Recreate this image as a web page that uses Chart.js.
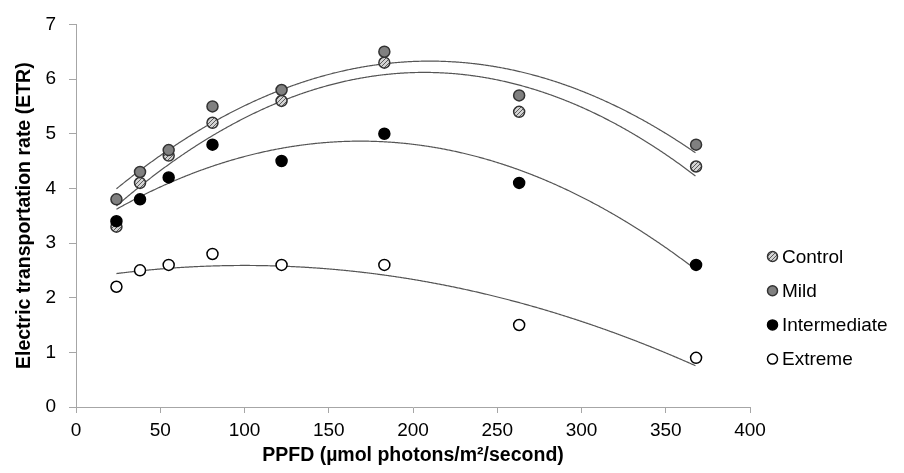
<!DOCTYPE html>
<html><head><meta charset="utf-8">
<script src="https://cdn.jsdelivr.net/npm/chart.js@4.4.1/dist/chart.umd.min.js"></script>
<style>html,body{margin:0;padding:0;background:#fff}#wrap{width:904px;height:473px;position:relative}</style>
</head><body><div id="wrap"><canvas id="c" width="904" height="473"></canvas></div>
<script>
// ---- data ----
const ppfd = [24, 38, 55, 81, 122, 183, 263, 368];
const control = [3.3, 4.1, 4.6, 5.2, 5.6, 6.3, 5.4, 4.4];
const mild = [3.8, 4.3, 4.7, 5.5, 5.8, 6.5, 5.7, 4.8];
const intermediate = [3.4, 3.8, 4.2, 4.8, 4.5, 5.0, 4.1, 2.6];
const extreme = [2.2, 2.5, 2.6, 2.8, 2.6, 2.6, 1.5, 0.9];
const seriesNames = ['Control', 'Mild', 'Intermediate', 'Extreme'];
const xTickValues = [0, 50, 100, 150, 200, 250, 300, 350, 400];
const yTickValues = [0, 1, 2, 3, 4, 5, 6, 7];
const xTitle = 'PPFD (µmol photons/m²/second)';
const yTitle = 'Electric transportation rate (ETR)';

const FONT = "'Liberation Sans', Arial, sans-serif";
Chart.defaults.font.family = FONT;
Chart.defaults.color = '#000';

// hatched fill for Control
function makeHatch() {
  const c = document.createElement('canvas');
  c.width = 4; c.height = 4;
  const g = c.getContext('2d');
  g.fillStyle = '#d4d4d4'; g.fillRect(0, 0, 4, 4);
  g.strokeStyle = '#5a5a5a'; g.lineWidth = 1;
  g.beginPath();
  g.moveTo(-1, 5); g.lineTo(5, -1);
  g.moveTo(-1, 1); g.lineTo(1, -1);
  g.moveTo(3, 5); g.lineTo(5, 3);
  g.stroke();
  return g.createPattern(c, 'repeat');
}
const ctx0 = document.getElementById('c').getContext('2d');
const hatch = makeHatch();

const styles = [
  { bg: hatch, border: '#333333', order: 4 },
  { bg: '#808080', border: '#333333', order: 3 },
  { bg: '#000000', border: '#000000', order: 2 },
  { bg: '#ffffff', border: '#000000', order: 1 }
];
const values = [control, mild, intermediate, extreme];

const datasets = values.map((vals, i) => ({
  label: seriesNames[i],
  data: ppfd.map((x, k) => ({ x: x, y: vals[k] })),
  showLine: false,
  pointRadius: 5.5,
  pointHoverRadius: 5.5,
  pointBorderWidth: 1.5,
  pointBackgroundColor: styles[i].bg,
  pointBorderColor: styles[i].border,
  backgroundColor: styles[i].bg,
  borderColor: styles[i].border,
  order: styles[i].order
}));

// least-squares quadratic (Excel-style polynomial trendline, order 2)
function quadFit(xs, ys) {
  let n = xs.length, s1 = 0, s2 = 0, s3 = 0, s4 = 0, t0 = 0, t1 = 0, t2 = 0;
  for (let i = 0; i < n; i++) {
    const x = xs[i], y = ys[i];
    s1 += x; s2 += x * x; s3 += x * x * x; s4 += x * x * x * x;
    t0 += y; t1 += x * y; t2 += x * x * y;
  }
  const M = [[n, s1, s2, t0], [s1, s2, s3, t1], [s2, s3, s4, t2]];
  for (let c = 0; c < 3; c++) {
    let p = c;
    for (let r = c + 1; r < 3; r++) if (Math.abs(M[r][c]) > Math.abs(M[p][c])) p = r;
    [M[c], M[p]] = [M[p], M[c]];
    for (let r = 0; r < 3; r++) {
      if (r === c) continue;
      const f = M[r][c] / M[c][c];
      for (let k = c; k < 4; k++) M[r][k] -= f * M[c][k];
    }
  }
  return [M[0][3] / M[0][0], M[1][3] / M[1][1], M[2][3] / M[2][2]];
}

const trendPlugin = {
  id: 'trend',
  beforeDatasetsDraw(chart) {
    const { ctx, scales: { x, y }, chartArea } = chart;
    ctx.save();
    ctx.beginPath();
    ctx.rect(chartArea.left, chartArea.top, chartArea.right - chartArea.left, chartArea.bottom - chartArea.top);
    ctx.clip();
    ctx.strokeStyle = '#555555';
    ctx.lineWidth = 1.2;
    chart.data.datasets.forEach(ds => {
      const xs = ds.data.map(p => p.x), ys = ds.data.map(p => p.y);
      const [a, b, c] = quadFit(xs, ys);
      const p0 = x.getPixelForValue(Math.min(...xs));
      const p1 = x.getPixelForValue(Math.max(...xs));
      ctx.beginPath();
      for (let px = p0; px <= p1 + 0.01; px += 1) {
        const v = x.getValueForPixel(Math.min(px, p1));
        const py = y.getPixelForValue(a + b * v + c * v * v);
        if (px === p0) ctx.moveTo(px, py); else ctx.lineTo(Math.min(px, p1), py);
      }
      ctx.stroke();
    });
    ctx.restore();
  }
};

const legendPlugin = {
  id: 'sideLegend',
  afterDraw(chart) {
    const ctx = chart.ctx;
    ctx.save();
    ctx.font = '19px ' + FONT;
    ctx.textBaseline = 'middle';
    ctx.textAlign = 'left';
    const x0 = 772.5, y0 = 256.5, step = 34.2;
    chart.data.datasets.forEach((ds, i) => {
      const cy = y0 + i * step;
      ctx.beginPath();
      ctx.arc(x0, cy, 5, 0, Math.PI * 2);
      ctx.fillStyle = ds.pointBackgroundColor;
      ctx.fill();
      ctx.lineWidth = 1.5;
      ctx.strokeStyle = ds.pointBorderColor;
      ctx.stroke();
      ctx.fillStyle = '#000';
      ctx.fillText(ds.label, x0 + 9.5, cy + 1);
    });
    ctx.restore();
  }
};

const axisGray = '#a6a6a6';
new Chart(document.getElementById('c'), {
  type: 'scatter',
  data: { datasets: datasets },
  plugins: [trendPlugin, legendPlugin],
  options: {
    responsive: false,
    animation: false,
    events: [],
    layout: { padding: { left: 0, right: 154, top: 16, bottom: 0 } },
    plugins: { legend: { display: false }, tooltip: { enabled: false } },
    scales: {
      x: {
        type: 'linear', min: xTickValues[0], max: xTickValues[xTickValues.length - 1],
        afterBuildTicks: s => { s.ticks = xTickValues.map(v => ({ value: v })); },
        ticks: { font: { size: 19 }, color: '#000', padding: 6, maxRotation: 0 },
        grid: { display: true, drawOnChartArea: false, drawTicks: true, tickLength: 6, color: axisGray },
        border: { display: true, color: axisGray, width: 1 },
        title: { display: true, text: xTitle, font: { size: 19.5, weight: 'bold' }, color: '#000', padding: { top: 0, bottom: 6 } },
        afterFit: s => { s.height = 66; }
      },
      y: {
        type: 'linear', min: yTickValues[0], max: yTickValues[yTickValues.length - 1],
        afterBuildTicks: s => { s.ticks = yTickValues.map(v => ({ value: v })); },
        ticks: { font: { size: 19 }, color: '#000', padding: 13 },
        grid: { display: true, drawOnChartArea: false, drawTicks: true, tickLength: 7, color: axisGray },
        border: { display: true, color: axisGray, width: 1 },
        title: { display: true, text: yTitle, font: { size: 19.5, weight: 'bold' }, color: '#000', padding: { top: 13, bottom: 0 } },
        afterFit: s => { s.width = 76; }
      }
    }
  }
});
</script>
</body></html>
